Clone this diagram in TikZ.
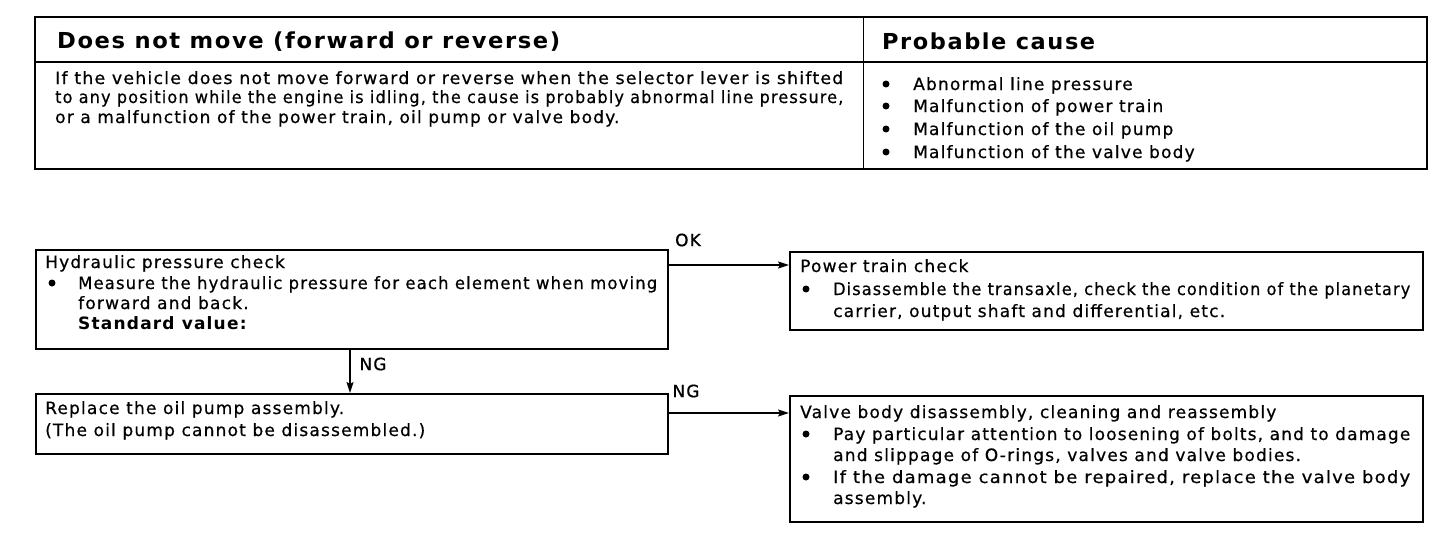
\documentclass[tikz,border=0pt]{standalone}
\usepackage{fontspec}
\usepackage{graphicx}
\usetikzlibrary{arrows.meta}
\newfontfamily\tf[LetterSpace=7,FakeBold=0.6]{DejaVu Sans}
\newfontfamily\tfb[LetterSpace=7]{DejaVu Sans Bold}
\newcommand\jl[2]{\resizebox{#1}{\height}{#2}}
\begin{document}
\begin{tikzpicture}[x=1pt,y=-1pt,
  txt/.style={anchor=base west, inner sep=0pt, font=\tf\fontsize{17}{20}\selectfont},
  hdr/.style={anchor=base west, inner sep=0pt, font=\tfb\fontsize{22}{26}\selectfont},
  lbl/.style={inner sep=0pt, font=\tf\fontsize{17}{20}\selectfont},
  bul/.style={circle, fill=black, inner sep=0pt, minimum size=7pt},
  box/.style={draw, line width=1.5pt, anchor=north west, inner sep=0pt},
  arr/.style={line width=1.5pt, -{Stealth[length=11pt,width=7pt,inset=2pt]}}
]
\useasboundingbox (0,0) rectangle (1456,538);
\fill[white] (0,0) rectangle (1456,538);

% ---- table ----
\draw[line width=2.2pt] (35,17) rectangle (1427,169);
\draw[line width=2pt] (35,62) -- (1427,62);
\draw[line width=1pt] (863,17) -- (863,169);

\node[hdr] (h1) at (57,48) {\jl{503pt}{Does not move (forward or reverse)}};
\node[hdr] (h2) at (882,49) {\jl{213pt}{Probable cause}};

\node[txt] (l1) at (55,84) {\jl{788pt}{If the vehicle does not move forward or reverse when the selector lever is shifted}};
\node[txt] (l2) at (55,103) {\jl{788pt}{to any position while the engine is idling, the cause is probably abnormal line pressure,}};
\node[txt] (l3) at (55,123) {or a malfunction of the power train, oil pump or valve body.};

\node[bul] (b1) at (886,84) {};
\node[bul] (b2) at (886,106) {};
\node[bul] (b3) at (886,129) {};
\node[bul] (b4) at (886,152) {};
\node[txt] (c1) at (913,90) {Abnormal line pressure};
\node[txt] (c2) at (913,112) {Malfunction of power train};
\node[txt] (c3) at (913,135) {Malfunction of the oil pump};
\node[txt] (c4) at (913,158) {Malfunction of the valve body};

% ---- flowchart boxes ----
\node[box, minimum width=632pt, minimum height=99pt] (hyd) at (35,249) {};
\node[box, minimum width=633pt, minimum height=78pt] (pow) at (789,251) {};
\node[box, minimum width=632pt, minimum height=60pt] (rep) at (35,393) {};
\node[box, minimum width=633pt, minimum height=126pt] (val) at (789,395) {};

% hydraulic
\node[txt] (t1) at (45,268) {Hydraulic pressure check};
\node[bul] (tb1) at (52,283) {};
\node[txt] (t2) at (78,289) {\jl{579pt}{Measure the hydraulic pressure for each element when moving}};
\node[txt] (t3) at (78,309) {forward and back.};
\node[txt, font=\tfb\fontsize{17}{20}\selectfont] (t4) at (78,329) {Standard value:};

% power train
\node[txt] (p1) at (800,272) {Power train check};
\node[bul] (pb1) at (806,289) {};
\node[txt] (p2) at (833,295) {\jl{577pt}{Disassemble the transaxle, check the condition of the planetary}};
\node[txt] (p3) at (833,317) {carrier, output shaft and differential, etc.};

% replace
\node[txt] (r1) at (45,414) {Replace the oil pump assembly.};
\node[txt] (r2) at (45,436) {(The oil pump cannot be disassembled.)};

% valve body
\node[txt] (v1) at (800,418) {Valve body disassembly, cleaning and reassembly};
\node[bul] (vb1) at (806,434) {};
\node[txt] (v2) at (833,440) {\jl{577pt}{Pay particular attention to loosening of bolts, and to damage}};
\node[txt] (v3) at (833,461) {and slippage of O-rings, valves and valve bodies.};
\node[bul] (vb2) at (806,477) {};
\node[txt] (v4) at (833,483) {\jl{577pt}{If the damage cannot be repaired, replace the valve body}};
\node[txt] (v5) at (833,504) {assembly.};

% ---- connectors ----
\path (hyd.north east) ++(0,16) coordinate (okA);
\draw[arr] (okA) -- (okA -| pow.west);
\node[lbl] (ok) at (688,240) {OK};

\coordinate (ngx) at (350,0);
\draw[arr] (hyd.south -| ngx) -- (rep.north -| ngx);
\node[lbl] (ng1) at (373,364) {NG};

\path (rep.north east) ++(0,20) coordinate (ngA);
\draw[arr] (ngA) -- (ngA -| val.west);
\node[lbl] (ng2) at (686,391) {NG};
\end{tikzpicture}
\end{document}
